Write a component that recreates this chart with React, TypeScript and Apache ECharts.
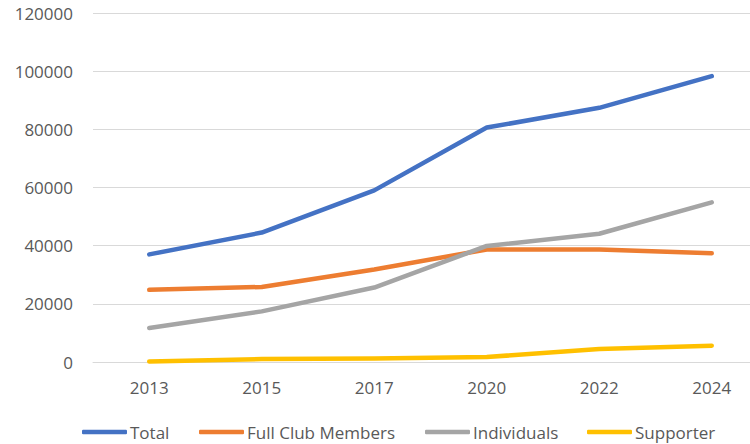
import React, { useEffect, useRef } from "react";
import * as echarts from "echarts";

const categories = ["2013", "2015", "2017", "2020", "2022", "2024"];
const total = [37000, 44500, 59000, 80600, 87400, 98300];
const fullClub = [24800, 25800, 31800, 38700, 38700, 37400];
const individuals = [11700, 17400, 25600, 39900, 44100, 54900];
const supporter = [200, 1000, 1200, 1700, 4500, 5600];
const seriesNames = ["Total", "Full Club Members", "Individuals", "Supporter"];
const colors = ["#4472C4", "#ED7D31", "#A5A5A5", "#FFC000"];
const legendLefts = [82, 199, 425, 587];

export default function App() {
  const ref = useRef<HTMLDivElement>(null);
  useEffect(() => {
    const chart = echarts.init(ref.current!, null, { renderer: "svg" });
    const data = [total, fullClub, individuals, supporter];
    const font = "'Open Sans', sans-serif";
    chart.setOption({
      animation: false,
      legend: seriesNames.map((n, i) => ({
        data: [{ name: n, icon: "roundRect" }],
        left: legendLefts[i],
        top: 422,
        padding: 0,
        itemWidth: 45,
        itemHeight: 4.5,
        textStyle: {
          color: "#595959",
          fontSize: 17,
          fontFamily: font,
          lineHeight: 20,
          padding: [0, 0, 0, -2],
        },
      })),
      grid: { left: 93, top: 13, width: 675, height: 349, outerBoundsMode: "none", containLabel: false },
      xAxis: {
        type: "category",
        data: categories,
        boundaryGap: true,
        axisLine: { lineStyle: { color: "#d9d9d9", width: 1 } },
        axisTick: { show: false },
        axisLabel: { color: "#595959", fontSize: 17, fontFamily: font, margin: 17 },
      },
      yAxis: {
        type: "value",
        min: 0,
        max: 120000,
        interval: 20000,
        axisLine: { show: false },
        axisTick: { show: false },
        splitLine: { lineStyle: { color: "#d9d9d9", width: 1 } },
        axisLabel: {
          color: "#595959",
          fontSize: 17,
          fontFamily: font,
          margin: 20,
          formatter: (v: number) => String(v),
        },
      },
      series: seriesNames.map((n, i) => ({
        name: n,
        type: "line",
        data: data[i],
        showSymbol: false,
        symbol: "none",
        color: colors[i],
        lineStyle: { width: 4.5, color: colors[i], cap: "round", join: "round" },
      })),
    });
    return () => chart.dispose();
  }, []);
  return (
    <div
      ref={ref}
      style={{ position: "fixed", left: 0, top: 0, width: 750, height: 444, background: "#fff" }}
    />
  );
}
